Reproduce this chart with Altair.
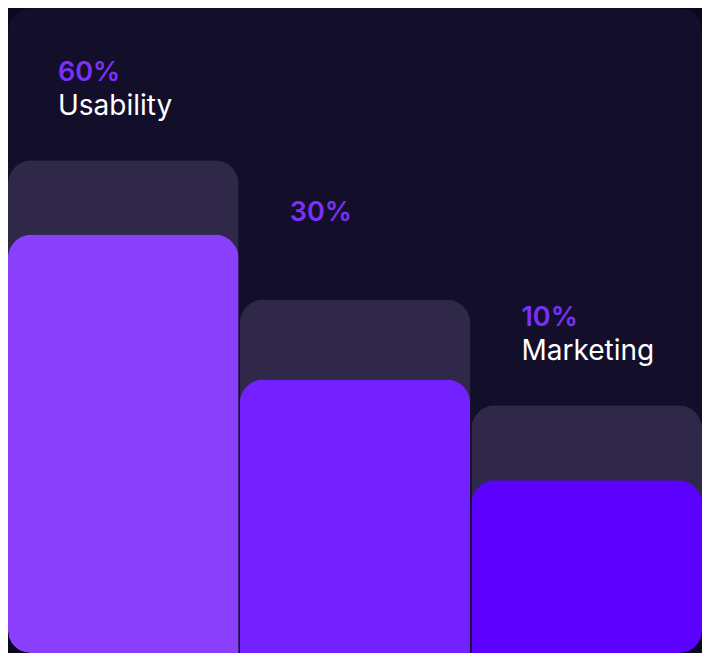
import altair as alt
import pandas as pd

# Data
keys = ["c1", "c2", "c3"]
labels = ["Usability", "", "Marketing"]
pct_labels = ["60%", "30%", "10%"]
back_values = [76.4, 54.8, 38.4]
front_values = [64.9, 42.4, 26.8]
front_colors = ["#8a3ffc", "#7322ff", "#5c00ff"]

W, H = 694, 645

df = pd.DataFrame({
    "key": keys,
    "label": labels,
    "pct": pct_labels,
    "back": back_values,
    "front": front_values,
})

xscale = alt.Scale(domain=keys, paddingInner=0.005, paddingOuter=0)
yscale = alt.Scale(domain=[0, 100], nice=False)

base = alt.Chart(df)

card = base.mark_rect(fill="#130f2b", cornerRadius=22).encode(
    x=alt.value(0), x2=alt.value(W), y=alt.value(0), y2=alt.value(H)
)

back = base.mark_bar(cornerRadiusTopLeft=24, cornerRadiusTopRight=24, color="#2f2849").encode(
    x=alt.X("key:N", scale=xscale, axis=None),
    y=alt.Y("back:Q", scale=yscale, axis=None),
)

front = base.mark_bar(cornerRadiusTopLeft=24, cornerRadiusTopRight=24).encode(
    x=alt.X("key:N", scale=xscale, axis=None),
    y=alt.Y("front:Q", scale=yscale, axis=None),
    color=alt.Color("key:N", scale=alt.Scale(domain=keys, range=front_colors), legend=None),
)

pct_text = base.mark_text(
    align="left", baseline="middle", dx=50, dy=-87,
    font="Inter", fontSize=27, fontWeight=600, color="#7a30f8",
).encode(
    x=alt.X("key:N", scale=xscale, axis=None, bandPosition=0),
    y=alt.Y("back:Q", scale=yscale, axis=None),
    text="pct:N",
)

label_text = base.mark_text(
    align="left", baseline="middle", dx=50, dy=-53,
    font="Inter", fontSize=28, fontWeight=400, color="#ffffff",
).encode(
    x=alt.X("key:N", scale=xscale, axis=None, bandPosition=0),
    y=alt.Y("back:Q", scale=yscale, axis=None),
    text="label:N",
)

mask = base.mark_rect(fill="transparent", stroke="#0a0820", strokeWidth=20,
                      cornerRadius=32, clip=True).encode(
    x=alt.value(-10), x2=alt.value(W + 10), y=alt.value(-10), y2=alt.value(H + 10)
)

chart = alt.layer(card, back, front, pct_text, label_text, mask).properties(
    width=W, height=H, padding=0,
    autosize=alt.AutoSizeParams(type="none"),
    background="#0a0820",
).configure_view(stroke=None)

chart.save("out.html", embed_options={"renderer": "svg", "actions": False})
